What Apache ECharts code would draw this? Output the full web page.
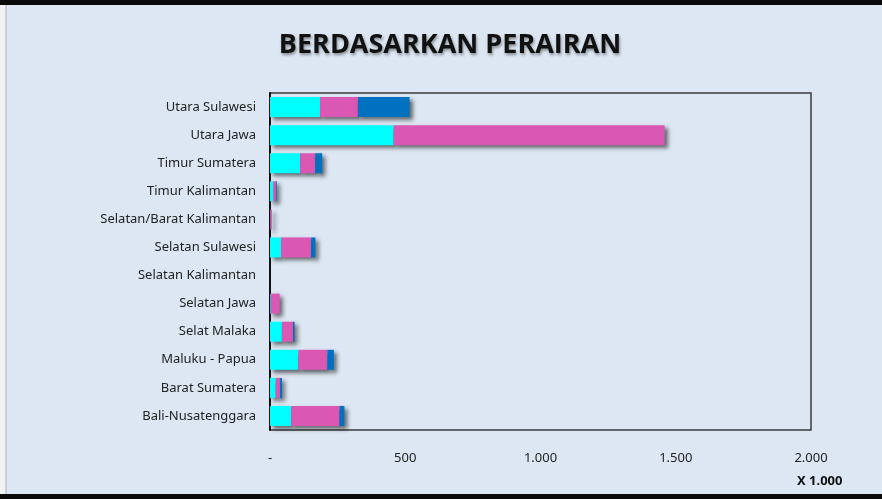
<!DOCTYPE html>
<html>
<head>
<meta charset="utf-8">
<script src="https://cdn.jsdelivr.net/npm/echarts@6/dist/echarts.min.js"></script>
<style>
  html, body { margin: 0; padding: 0; background: #dce7f3; }
  #chart { width: 882px; height: 499px; }
</style>
</head>
<body>
<div id="chart"></div>
<script>
const categories = ['Utara Sulawesi', 'Utara Jawa', 'Timur Sumatera', 'Timur Kalimantan',
  'Selatan/Barat Kalimantan', 'Selatan Sulawesi', 'Selatan Kalimantan', 'Selatan Jawa',
  'Selat Malaka', 'Maluku - Papua', 'Barat Sumatera', 'Bali-Nusatenggara'];

// values in thousands
const cyanValues = [185, 457, 111, 12, 1, 41, 0, 3, 44, 105, 21, 78];
const pinkValues = [140, 1002, 56, 10, 6, 111, 0, 33, 41, 107, 16, 179];
const blueValues = [191, 0, 26, 3, 0, 16, 0, 0, 6, 24, 7, 18];

const xTicks = [0, 500, 1000, 1500, 2000];

const chart = echarts.init(document.getElementById('chart'));

function fmt(v) {
  if (v === 0) return '-';
  return String(v).replace(/\B(?=(\d{3})+(?!\d))/g, '.');
}

const shadow = {
  shadowColor: 'rgba(0,0,0,0.55)',
  shadowBlur: 4,
  shadowOffsetX: 3,
  shadowOffsetY: 3
};

function barSeries(name, data, color) {
  return {
    name: name,
    type: 'bar',
    stack: 'total',
    barWidth: 20,
    data: data,
    itemStyle: Object.assign({ color: color }, shadow)
  };
}

chart.setOption({
  backgroundColor: '#dce7f3',
  animation: false,
  title: {
    text: 'BERDASARKAN PERAIRAN',
    left: 445,
    top: 27,
    textAlign: 'center',
    textStyle: {
      fontFamily: 'Open Sans',
      fontWeight: 'bold',
      fontSize: 27,
      color: '#111',
      textShadowColor: 'rgba(0,0,0,0.4)',
      textShadowBlur: 3,
      textShadowOffsetX: 1,
      textShadowOffsetY: 2
    }
  },
  grid: {
    left: 270,
    right: 71,
    top: 93,
    bottom: 69,
    show: true,
    borderColor: '#3a3a3a',
    borderWidth: 1.5,
    backgroundColor: 'transparent'
  },
  xAxis: {
    type: 'value',
    min: xTicks[0],
    max: xTicks[xTicks.length - 1],
    interval: 500,
    axisLine: { show: false },
    axisTick: { show: false },
    splitLine: { show: false },
    axisLabel: {
      formatter: fmt,
      margin: 22,
      fontFamily: 'Noto Sans',
      fontSize: 13,
      color: '#222'
    }
  },
  yAxis: {
    type: 'category',
    inverse: true,
    data: categories,
    axisLine: { show: true, lineStyle: { color: '#111', width: 2 } },
    axisTick: { show: false },
    axisLabel: {
      margin: 14,
      fontFamily: 'Noto Sans',
      fontSize: 13,
      color: '#222'
    }
  },
  graphic: [
    { type: 'rect', shape: { x: 0, y: 0, width: 882, height: 5 }, style: { fill: '#0a0a0a' } },
    { type: 'rect', shape: { x: 0, y: 494, width: 882, height: 5 }, style: { fill: '#0a0a0a' } },
    { type: 'rect', shape: { x: 0, y: 5, width: 6, height: 489 }, style: { fill: '#f2f2f2' } },
    { type: 'line', shape: { x1: 6, y1: 5, x2: 6, y2: 494 }, style: { stroke: '#b0b0b0', lineWidth: 1 } },
    {
      type: 'text',
      left: 797,
      top: 475,
      style: { text: 'X 1.000', fontFamily: 'Noto Sans', fontWeight: 'bold', fontSize: 13, fill: '#111' }
    }
  ],
  series: [
    barSeries('Cyan', cyanValues, '#00ffff'),
    barSeries('Pink', pinkValues, '#da57b4'),
    barSeries('Blue', blueValues, '#0070c0')
  ]
});
</script>
</body>
</html>
